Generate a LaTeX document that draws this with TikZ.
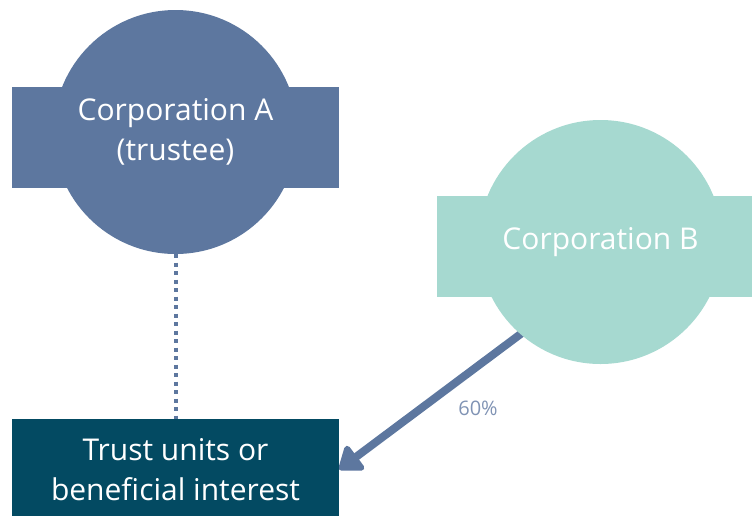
\documentclass[tikz,border=0pt]{standalone}
\usepackage{fontspec}
\setmainfont{Open Sans}
\usetikzlibrary{arrows.meta}
\definecolor{slate}{HTML}{5D779F}
\definecolor{mint}{HTML}{A6D9D0}
\definecolor{deepteal}{HTML}{034A62}
\definecolor{pctgray}{HTML}{8093B4}
\pgfdeclarelayer{back}
\pgfsetlayers{back,main}
\begin{document}
\begin{tikzpicture}[x=1pt, y=-1pt,
    disc/.style={circle, minimum size=244pt, inner sep=0pt},
    band/.style={rectangle, minimum width=327pt, minimum height=101pt, inner sep=0pt},
    whitetext/.style={text=white, align=center, font=\fontsize{30}{40}\selectfont}]
  \useasboundingbox (0,0) rectangle (752,515);
  % Corporation A
  \node[band, fill=slate] (bandA) at (175.5,137.5) {};
  \node[disc, fill=slate, whitetext] (corpA) at (175.5,132) {Corporation A\\(trustee)};
  % Corporation B
  \node[band, fill=mint] (bandB) at (600.5,246) {};
  \node[disc, fill=mint, whitetext] (corpB) at (600.5,242) {Corporation B};
  % trust units
  \node[band, fill=deepteal, whitetext] (trust) at (175.5,469.5) {Trust units or\\beneficial interest};
  \draw[slate, line width=4pt, dash pattern=on 4pt off 4.5pt] (corpA.south) -- (trust.north);
  \begin{pgfonlayer}{back}
    \draw[slate, line width=8pt, shorten <=-10pt, -{Triangle[length=24pt, width=34pt, round]}] (corpB.229) -- (trust.east);
  \end{pgfonlayer}
  \node[text=pctgray, font=\fontsize{20}{24}\selectfont] (pct) at (478,408) {60\%};
\end{tikzpicture}
\end{document}
